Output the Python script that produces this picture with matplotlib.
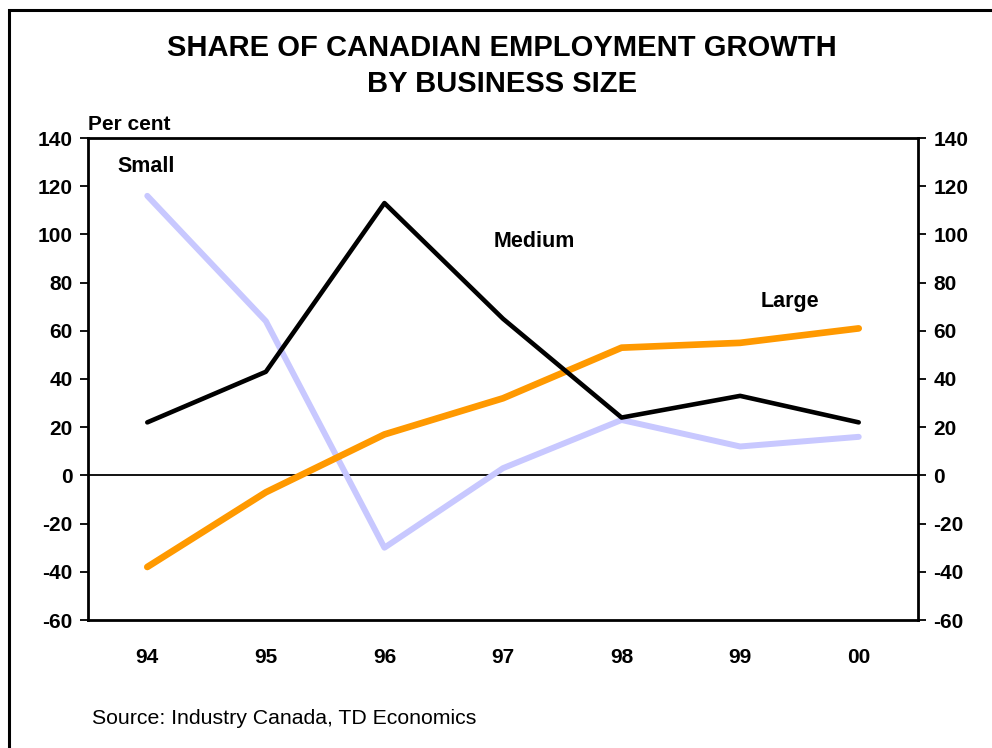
import matplotlib.pyplot as plt
from matplotlib.patches import Rectangle

plt.rcParams["font.family"] = ["Liberation Sans", "DejaVu Sans"]
plt.rcParams["axes.unicode_minus"] = False

years = ["94", "95", "96", "97", "98", "99", "00"]
small = [116, 64, -30, 3, 23, 12, 16]
medium = [22, 43, 113, 65, 24, 33, 22]
large = [-38, -7, 17, 32, 53, 55, 61]

fig = plt.figure(figsize=(9.92, 7.48), dpi=100)
ax = fig.add_axes([88 / 992, 1 - 620 / 748, (918 - 88) / 992, (620 - 138) / 748])

# frame around the whole chart (runs off the right and bottom edges)
fig.patches.append(Rectangle((9 / 992, -0.05), 1.2, 1 - 10 / 748 + 0.05,
                             transform=fig.transFigure, fill=False,
                             edgecolor="black", linewidth=2.2))

x = list(range(len(years)))
ax.plot(x, small, color="#C8C8FF", linewidth=4.3, solid_capstyle="round", zorder=3)
ax.plot(x, large, color="#FF9900", linewidth=4.8, solid_capstyle="round", zorder=4)
ax.plot(x, medium, color="black", linewidth=3.3, solid_capstyle="round", zorder=5)
ax.axhline(0, color="black", linewidth=1.3, zorder=2)

ax.set_xlim(-0.5, len(years) - 0.5)
ax.set_ylim(-60, 140)
ax.set_yticks(range(-60, 141, 20))
ax.set_xticks(x)
ax.set_xticklabels(years)

ax.tick_params(axis="x", length=0, pad=20, labelsize=15)
ax.tick_params(axis="y", direction="out", length=6, width=1.3, labelsize=15,
               left=True, right=True, labelleft=True, labelright=True, pad=5)
for lab in ax.get_xticklabels() + ax.get_yticklabels():
    lab.set_fontweight("bold")
for t in ax.yaxis.get_major_ticks():
    t.label2.set_fontweight("bold")
for s in ax.spines.values():
    s.set_linewidth(2)

ax.text(-0.25, 128, "Small", fontsize=15.5, fontweight="bold", va="center")
ax.text(2.92, 97, "Medium", fontsize=15.5, fontweight="bold", va="center")
ax.text(5.17, 72, "Large", fontsize=15.5, fontweight="bold", va="center")

fig.text(88 / 992, 1 - 124 / 748, "Per cent", fontsize=15, fontweight="bold", va="center")
fig.text(502 / 992, 1 - 66 / 748, "SHARE OF CANADIAN EMPLOYMENT GROWTH\nBY BUSINESS SIZE",
         ha="center", va="center", fontsize=21, fontweight="bold", linespacing=1.4)
fig.text(92 / 992, 1 - 718 / 748, "Source: Industry Canada, TD Economics",
         fontsize=15.3, va="center")

fig.savefig("out.png", dpi=100)
